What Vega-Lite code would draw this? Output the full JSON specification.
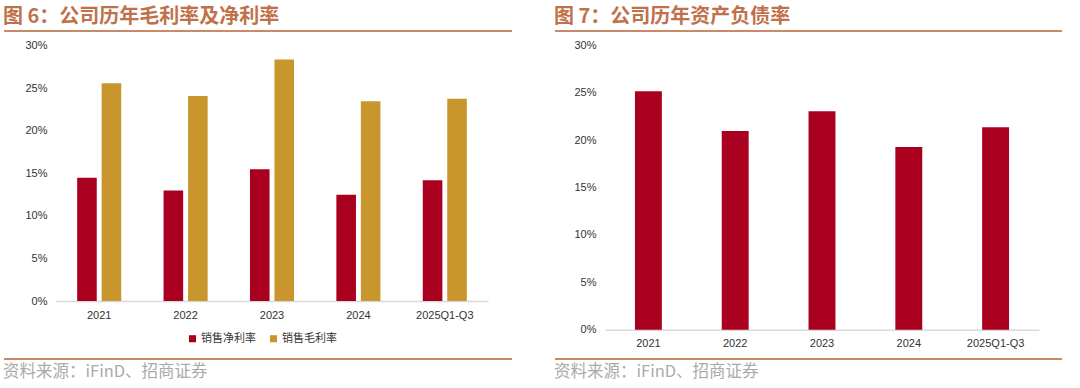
{
  "$schema": "https://vega.github.io/schema/vega-lite/v6.json",
  "padding": {"left": 3, "top": 7, "right": 0, "bottom": 0},
  "background": "white",
  "spacing": 41,
  "config": {
    "font": "Liberation Sans",
    "view": {"stroke": null},
    "title": {"font": "Noto Sans CJK SC", "fontSize": 20, "fontWeight": "bold", "color": "#C0714A", "anchor": "start", "offset": 3}
  },
  "hconcat": [
    {
      "title": {"text": "图 6：公司历年毛利率及净利率"},
      "vconcat": [
        {
          "width": 508,
          "height": 328,
          "title": {"text": "资料来源：iFinD、招商证券", "orient": "bottom", "fontWeight": "normal", "fontSize": 16.5, "color": "#aaaaaa", "offset": 4, "baseline": "top"},
          "data": {"values": [
            {"year": "2021", "s": "销售净利率", "v": 0.145},
            {"year": "2021", "s": "销售毛利率", "v": 0.256},
            {"year": "2022", "s": "销售净利率", "v": 0.130},
            {"year": "2022", "s": "销售毛利率", "v": 0.241},
            {"year": "2023", "s": "销售净利率", "v": 0.155},
            {"year": "2023", "s": "销售毛利率", "v": 0.284},
            {"year": "2024", "s": "销售净利率", "v": 0.125},
            {"year": "2024", "s": "销售毛利率", "v": 0.235},
            {"year": "2025Q1-Q3", "s": "销售净利率", "v": 0.142},
            {"year": "2025Q1-Q3", "s": "销售毛利率", "v": 0.238}
          ]},
          "layer": [
            {
              "mark": {"type": "bar"},
              "encoding": {
                "x": {"field": "year", "type": "nominal", "sort": null,
                  "scale": {"range": [52, 484], "paddingInner": 0.49, "paddingOuter": 0.245},
                  "axis": {"title": null, "labelAngle": 0, "ticks": false, "domainColor": "#d9d9d9", "domainWidth": 1.5, "offset": -58, "labelFontSize": 11, "labelColor": "#333333", "labelPadding": 8}},
                "xOffset": {"field": "s", "type": "nominal", "sort": ["销售净利率", "销售毛利率"], "scale": {"paddingInner": 0.2}},
                "y": {"field": "v", "type": "quantitative",
                  "scale": {"domain": [-0.0682, 0.3176], "nice": false, "zero": false},
                  "axis": {"title": null, "values": [0, 0.05, 0.1, 0.15, 0.2, 0.25, 0.3], "format": ".0%", "grid": false, "ticks": false, "domain": false, "offset": -52, "labelPadding": 9, "labelFontSize": 11, "labelColor": "#333333"}},
                "color": {"field": "s", "type": "nominal", "sort": ["销售净利率", "销售毛利率"],
                  "scale": {"range": ["#A8001E", "#C9952D"]},
                  "legend": {"title": null, "orient": "none", "direction": "horizontal", "legendX": 183, "legendY": 302, "symbolType": "square", "symbolSize": 50, "symbolStrokeWidth": 0, "labelOffset": 3, "labelFont": "Noto Sans CJK SC", "labelFontSize": 11, "labelColor": "#333333", "columnPadding": 12}}
              }
            },
            {
              "data": {"values": [{"p": 0.3176}, {"p": -0.0682}]},
              "mark": {"type": "rule", "color": "#C98A68", "strokeWidth": 2},
              "encoding": {"y": {"field": "p", "type": "quantitative"}}
            }
          ]
        }
      ]
    },
    {
      "title": {"text": "图 7：公司历年资产负债率"},
      "vconcat": [
        {
          "width": 507,
          "height": 328,
          "title": {"text": "资料来源：iFinD、招商证券", "orient": "bottom", "fontWeight": "normal", "fontSize": 16.5, "color": "#aaaaaa", "offset": 4, "baseline": "top"},
          "data": {"values": [
            {"year": "2021", "v": 0.2515},
            {"year": "2022", "v": 0.2096},
            {"year": "2023", "v": 0.2304},
            {"year": "2024", "v": 0.1927},
            {"year": "2025Q1-Q3", "v": 0.2135}
          ]},
          "layer": [
            {
              "mark": {"type": "bar", "color": "#A8001E"},
              "encoding": {
                "x": {"field": "year", "type": "nominal", "sort": null,
                  "scale": {"range": [50, 484], "paddingInner": 0.69, "paddingOuter": 0.345},
                  "axis": {"title": null, "labelAngle": 0, "ticks": false, "domainColor": "#d9d9d9", "domainWidth": 1.5, "offset": -29.3, "labelFontSize": 11, "labelColor": "#333333", "labelPadding": 8}},
                "y": {"field": "v", "type": "quantitative",
                  "scale": {"domain": [-0.0309, 0.3151], "nice": false, "zero": false},
                  "axis": {"title": null, "values": [0, 0.05, 0.1, 0.15, 0.2, 0.25, 0.3], "format": ".0%", "grid": false, "ticks": false, "domain": false, "offset": -50, "labelPadding": 9, "labelFontSize": 11, "labelColor": "#333333"}}
              }
            },
            {
              "data": {"values": [{"p": 0.3151}, {"p": -0.0309}]},
              "mark": {"type": "rule", "color": "#C98A68", "strokeWidth": 2},
              "encoding": {"y": {"field": "p", "type": "quantitative"}}
            }
          ]
        }
      ]
    }
  ]
}
